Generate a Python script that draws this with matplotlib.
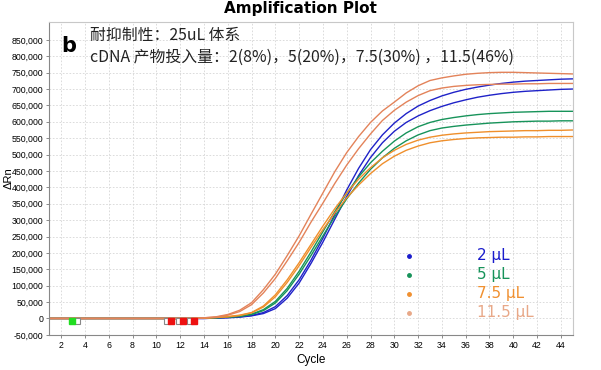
import numpy as np
import matplotlib.pyplot as plt

# cycle numbers 1..45
cycles = np.arange(1, 46)

# baseline (cycles 1-13) is ~0 for every well
base = [0] * 13

# delta Rn per cycle, cycles 14..45, values in thousands
salmon_a = [2, 5, 12, 25, 48, 88, 135, 192, 252, 318, 383, 448, 506, 555, 598, 633,
            660, 688, 710, 726, 734, 740, 745, 748, 750, 751, 751, 750, 749, 748, 747, 746]
salmon_b = [2, 4, 10, 21, 42, 78, 122, 176, 232, 294, 352, 412, 468, 518, 563, 604,
            635, 660, 680, 695, 703, 708, 711, 713, 714, 715, 715, 716, 716, 717, 717, 717]
orange_a = [1, 3, 6, 10, 18, 38, 72, 118, 170, 226, 282, 335, 383, 425, 460, 490,
            513, 531, 544, 553, 559, 563, 566, 568, 570, 571, 572, 573, 573, 574, 574, 575]
orange_b = [1, 3, 5, 9, 17, 35, 66, 110, 161, 217, 271, 322, 368, 407, 442, 472,
            495, 513, 526, 536, 542, 546, 549, 551, 552, 553, 553, 554, 554, 555, 555, 555]
green_a = [1, 2, 4, 7, 13, 27, 52, 92, 144, 203, 265, 326, 382, 432, 475, 510,
           541, 566, 585, 598, 607, 613, 618, 622, 625, 627, 629, 630, 631, 632, 632, 632]
green_b = [1, 2, 4, 6, 12, 24, 47, 85, 135, 192, 252, 311, 365, 413, 455, 490,
           519, 542, 560, 573, 581, 586, 590, 593, 596, 598, 600, 601, 602, 602, 603, 603]
blue_a = [0, 1, 3, 5, 9, 18, 36, 70, 118, 178, 245, 318, 392, 458, 515, 560,
          596, 625, 648, 665, 679, 690, 699, 706, 712, 717, 721, 724, 726, 728, 730, 731]
blue_b = [0, 1, 2, 4, 8, 15, 30, 62, 108, 168, 233, 303, 372, 436, 491, 536,
          571, 598, 618, 634, 647, 658, 667, 675, 681, 686, 690, 693, 695, 697, 699, 700]

series = [
    (blue_a, '#1f22c8'), (blue_b, '#1f22c8'),
    (green_a, '#17935a'), (green_b, '#17935a'),
    (orange_b, '#ef8f2c'), (orange_a, '#ef8f2c'),
    (salmon_b, '#e3835a'), (salmon_a, '#e3835a'),
]

# baseline start / threshold markers
green_mark_x = [2.95]
red_mark_x = [11.2, 12.2, 13.15]
hollow_mark_x = [3.3, 10.9, 11.9, 12.85]
mark_y = -7000

legend_labels = ['2 µL', '5 µL', '7.5 µL', '11.5 µL']
legend_colors = ['#1a1ccc', '#17935a', '#f09030', '#e8a888']

plt.rcParams['font.family'] = ['Noto Sans CJK SC', 'DejaVu Sans']

fig = plt.figure(figsize=(6.01, 3.70), dpi=100)
ax = fig.add_axes([0.082, 0.095, 0.871, 0.846])

for vals, col in series:
    y = np.array(base + vals) * 1000.0
    ax.plot(cycles, y, color=col, lw=1.0)

ax.plot(hollow_mark_x, [mark_y] * len(hollow_mark_x), 's', ms=4, mfc='white',
        mec='#888888', mew=0.8, zorder=4)
ax.plot(green_mark_x, [mark_y], 's', ms=4, color='#22dd22', zorder=5)
ax.plot(red_mark_x, [mark_y] * len(red_mark_x), 's', ms=4, color='#ee1111', zorder=5)

ax.set_xlim(1, 45)
ax.set_ylim(-50000, 905000)
ax.set_xticks(np.arange(2, 45, 2))
ax.set_yticks(np.arange(-50000, 900000, 50000))
ax.set_yticklabels([f'{v:,}' for v in range(-50000, 900000, 50000)])
ax.tick_params(labelsize=6.3, length=2.5, width=0.6, color='#777777', pad=2)
for lab in ax.get_xticklabels() + ax.get_yticklabels():
    lab.set_family('Liberation Sans')

ax.grid(True, ls=(0, (2, 2)), lw=0.6, color='#d6d6d6')
for side in ['left', 'bottom']:
    ax.spines[side].set_color('#888888')
for side in ['top', 'right']:
    ax.spines[side].set_color('#c8c8c8')

ax.set_xlabel('Cycle', fontsize=8.5, family='Liberation Sans', labelpad=3)
ax.set_ylabel('ΔRn', fontsize=8, family='Liberation Sans')
ax.yaxis.set_label_coords(-0.069, 0.5)

fig.text(0.5, 0.978, 'Amplification Plot', ha='center', va='center',
         fontsize=11, fontweight='bold', family='DejaVu Sans')

ax.text(0.022, 0.955, 'b', transform=ax.transAxes, fontsize=15,
        fontweight='bold', family='DejaVu Sans', va='top', ha='left')
ax.text(0.077, 0.985, '耐抑制性：25uL 体系', transform=ax.transAxes,
        fontsize=11.4, va='top', ha='left', color='#222222')
ax.text(0.077, 0.915, 'cDNA 产物投入量：2(8%)，5(20%)，7.5(30%) ，11.5(46%)',
        transform=ax.transAxes, fontsize=11.4, va='top', ha='left',
        color='#222222')

for i, (lab, col) in enumerate(zip(legend_labels, legend_colors)):
    yy = 0.252 - i * 0.0607
    ax.plot([0.688], [yy], 'o', ms=2.5, color=col, transform=ax.transAxes)
    ax.text(0.817, yy, lab, transform=ax.transAxes, fontsize=11,
            color=col, va='center', ha='left', family='DejaVu Sans')

fig.savefig('out.png', dpi=100)
